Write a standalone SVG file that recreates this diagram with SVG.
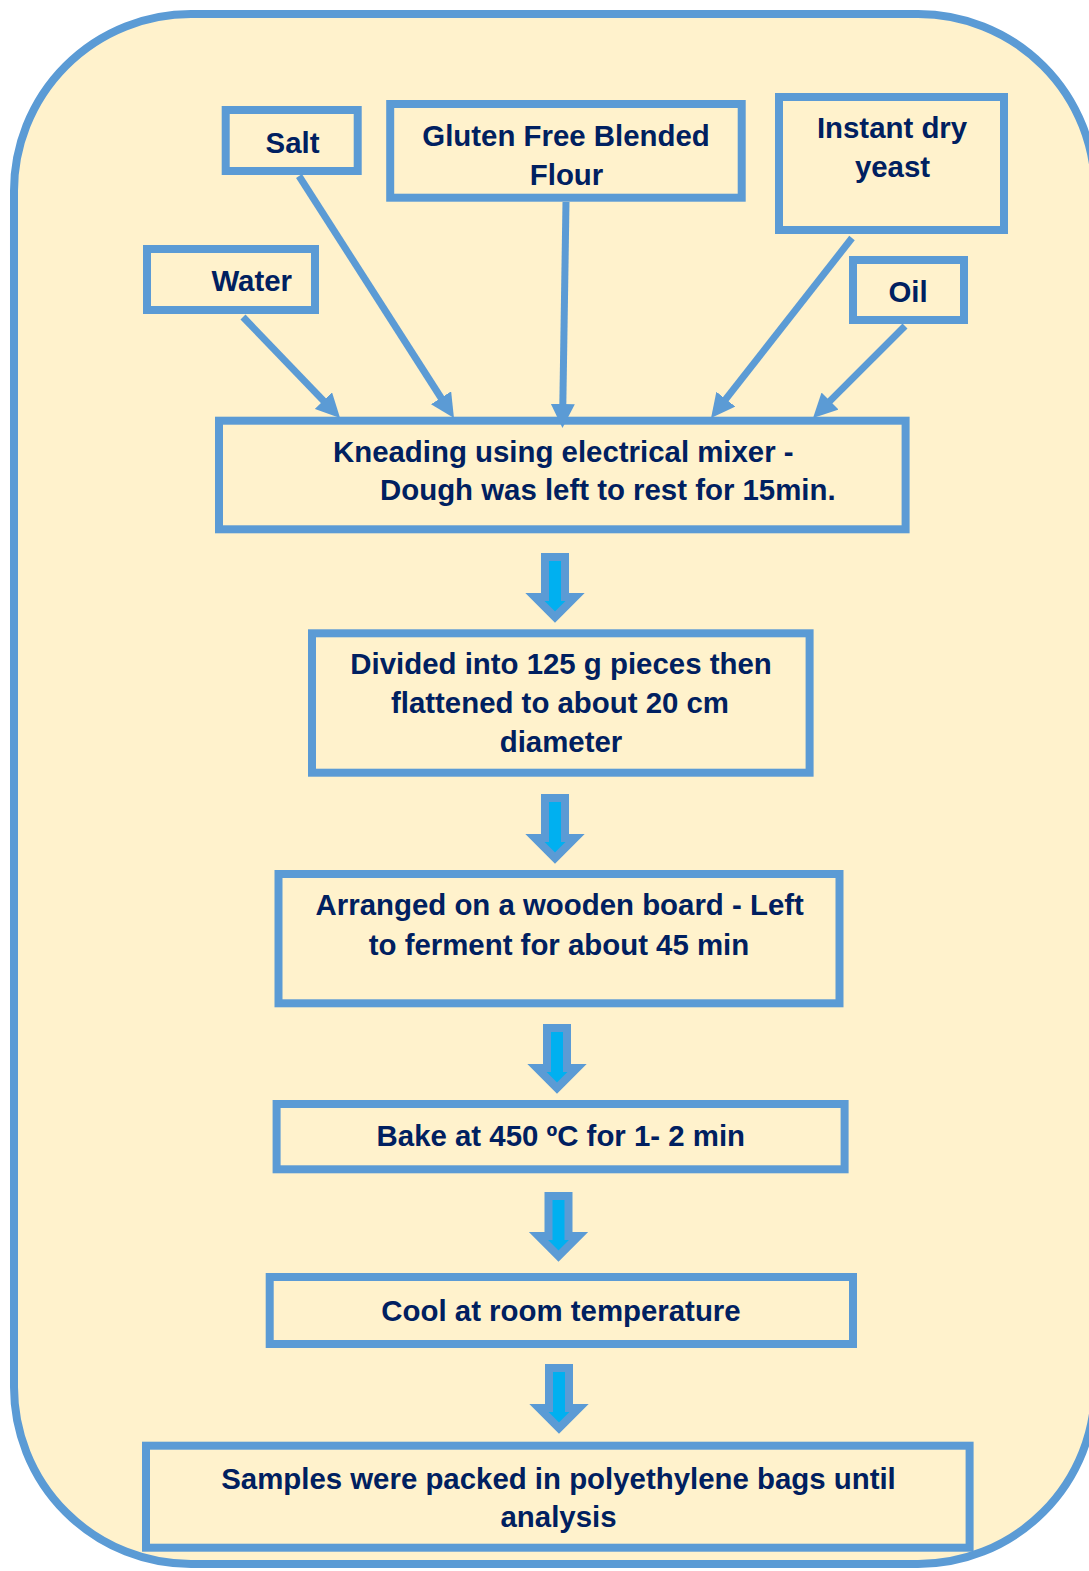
<svg xmlns="http://www.w3.org/2000/svg" width="1089" height="1571" viewBox="0 0 1089 1571">
<style>
.bg{fill:#FFF2CC;stroke:#5B9BD5;stroke-width:8}
.box{fill:#FFF2CC;stroke:#5B9BD5;stroke-width:8}
.t{font-family:"Liberation Sans",Arial,sans-serif;font-weight:bold;font-size:29.4px;fill:#002060;text-anchor:middle}
.ts{text-anchor:start}
.ln{stroke:#5B9BD5;stroke-width:7;fill:none;marker-end:url(#ah)}
.blk{fill:#00B0F0;stroke:#5B9BD5;stroke-width:8;stroke-linejoin:miter;stroke-miterlimit:10}
</style>
<defs>
<marker id="ah" markerUnits="userSpaceOnUse" markerWidth="24" markerHeight="24" viewBox="0 0 24 24" refX="2" refY="12" orient="auto">
<path d="M0,0 L24,12 L0,24 z" fill="#5B9BD5"/>
</marker>
<path id="down" d="M-10,0 H10 V40 H20 L0,60 L-20,40 H-10 Z"/>
</defs>
<rect class="bg" x="14" y="14" width="1081" height="1550" rx="177" ry="177"/>

<g id="salt"><rect class="box" x="225.7" y="110" width="132" height="61"/><text class="t" x="292.5" y="152.5">Salt</text></g>
<g id="gluten"><rect class="box" x="390.2" y="104" width="351.5" height="93.7"/><text class="t" x="566" y="145.5">Gluten Free Blended</text><text class="t" x="566.5" y="184.5">Flour</text></g>
<g id="yeast"><rect class="box" x="779" y="97" width="225" height="133"/><text class="t" x="892" y="137.8">Instant dry</text><text class="t" x="892.5" y="176.5">yeast</text></g>
<g id="water"><rect class="box" x="147" y="249" width="168" height="61"/><text class="t" x="251.7" y="290.5">Water</text></g>
<g id="oil"><rect class="box" x="853" y="260" width="111" height="60"/><text class="t" x="908" y="302">Oil</text></g>
<g id="knead"><rect class="box" x="219" y="420.7" width="686.6" height="108.6"/><text class="t ts" x="333" y="461.5">Kneading using electrical mixer -</text><text class="t ts" x="380" y="500">Dough was left to rest for 15min.</text></g>
<g id="divide"><rect class="box" x="312" y="633.3" width="497.6" height="139.4"/><text class="t" x="561" y="673.8">Divided into 125 g pieces then</text><text class="t" x="560" y="713">flattened to about 20 cm</text><text class="t" x="561" y="751.5">diameter</text></g>
<g id="arrange"><rect class="box" x="278.5" y="874" width="561" height="129.3"/><text class="t" x="559.7" y="914.8">Arranged on a wooden board - Left</text><text class="t" x="559" y="954.8">to ferment for about 45 min</text></g>
<g id="bake"><rect class="box" x="276.6" y="1104" width="568" height="65.3"/><text class="t" x="560.8" y="1145.5">Bake at 450 ºC for 1- 2 min</text></g>
<g id="cool"><rect class="box" x="269.7" y="1277" width="583.3" height="67"/><text class="t" x="561" y="1320.5">Cool at room temperature</text></g>
<g id="pack"><rect class="box" x="146" y="1445.7" width="823.6" height="102"/><text class="t" x="558.5" y="1488.5">Samples were packed in polyethylene bags until</text><text class="t" x="558.5" y="1527">analysis</text></g>

<g id="connectors">
<line class="ln" x1="243" y1="317" x2="324.8" y2="402.1"/>
<line class="ln" x1="299" y1="176" x2="442.1" y2="399.5"/>
<line class="ln" x1="566" y1="202" x2="562.8" y2="406"/>
<line class="ln" x1="852" y1="238" x2="724.6" y2="400.7"/>
<line class="ln" x1="905" y1="326" x2="828.6" y2="402.4"/>
<use href="#down" class="blk" transform="translate(555,557)"/>
<use href="#down" class="blk" transform="translate(555,798)"/>
<use href="#down" class="blk" transform="translate(557,1028)"/>
<use href="#down" class="blk" transform="translate(558.5,1196)"/>
<use href="#down" class="blk" transform="translate(559,1368)"/>
</g>
</svg>
